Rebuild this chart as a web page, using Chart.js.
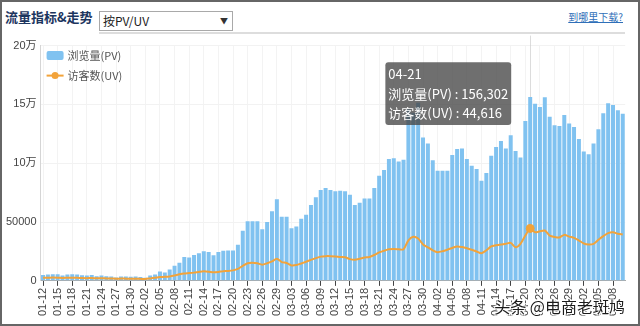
<!DOCTYPE html>
<html lang="zh-CN">
<head>
<meta charset="utf-8">
<title>流量指标&amp;走势</title>
<script src="https://cdn.jsdelivr.net/npm/chart.js@4.4.1/dist/chart.umd.min.js"></script>
<style>
  html, body { margin: 0; padding: 0; background: #fff; }
  .panel {
    position: relative; width: 640px; height: 326px; box-sizing: border-box;
    border: 2px solid #666; overflow: hidden;
    font-family: "Noto Sans CJK SC", "Liberation Sans", sans-serif;
  }
  .title { position: absolute; left: 3px; top: 7px; font-size: 13px; line-height: 16px; font-weight: bold; color: #1c355e; }
  .picker {
    position: absolute; left: 97px; top: 9px; width: 134px; height: 20px; box-sizing: border-box;
    border: 1px solid #a9a9a9; font-size: 12px; line-height: 18px; color: #222; padding-left: 3px;
  }
  .picker .arrow { position: absolute; right: 4px; top: 0; font-size: 8px; color: #333; }
  .rule { position: absolute; left: 97px; right: 13px; top: 30px; height: 2px; background: #ddd; }
  .help { position: absolute; right: 15px; top: 9px; font-size: 10px; line-height: 12px; color: #2f6fb8; text-decoration: underline; }
  .chart-box { position: absolute; left: 0; top: 33px; width: 636px; height: 289px; }
  .mark {
    position: absolute; right: 13px; top: 294px; font-size: 16px; line-height: 20px; color: #1a1a1a;
    text-shadow: 1px 1px 0 #fff, -1px -1px 0 #fff, 1px -1px 0 #fff, -1px 1px 0 #fff;
  }
</style>
</head>
<body>
<div class="panel">
  <div class="title">流量指标&amp;走势</div>
  <div class="picker">按PV/UV<span class="arrow">▼</span></div>
  <div class="rule"></div>
  <div class="help">到哪里下载?</div>
  <div class="chart-box"><canvas id="trend" width="636" height="289"></canvas></div>
  <div class="mark">头条 @电商老斑鸠</div>
</div>
<script>
const dates = [
  '01-12', '01-13', '01-14', '01-15', '01-16', '01-17', '01-18', '01-19', '01-20', '01-21',
  '01-22', '01-23', '01-24', '01-25', '01-26', '01-27', '01-28', '01-29', '01-30', '01-31',
  '02-01', '02-02', '02-03', '02-04', '02-05', '02-06', '02-07', '02-08', '02-09', '02-10',
  '02-11', '02-12', '02-13', '02-14', '02-15', '02-16', '02-17', '02-18', '02-19', '02-20',
  '02-21', '02-22', '02-23', '02-24', '02-25', '02-26', '02-27', '02-28', '02-29', '03-01',
  '03-02', '03-03', '03-04', '03-05', '03-06', '03-07', '03-08', '03-09', '03-10', '03-11',
  '03-12', '03-13', '03-14', '03-15', '03-16', '03-17', '03-18', '03-19', '03-20', '03-21',
  '03-22', '03-23', '03-24', '03-25', '03-26', '03-27', '03-28', '03-29', '03-30', '03-31',
  '04-01', '04-02', '04-03', '04-04', '04-05', '04-06', '04-07', '04-08', '04-09', '04-10',
  '04-11', '04-12', '04-13', '04-14', '04-15', '04-16', '04-17', '04-18', '04-19', '04-20',
  '04-21', '04-22', '04-23', '04-24', '04-25', '04-26', '04-27', '04-28', '04-29', '04-30',
  '05-01', '05-02', '05-03', '05-04', '05-05', '05-06', '05-07', '05-08', '05-09', '05-10',
];

// 浏览量 (PV) per day
const pvValues = [
  5000, 5500, 5600, 5600, 4600, 5500, 5600, 5500, 4700, 4600,
  5000, 3900, 4500, 3900, 3800, 2800, 3800, 3800, 3500, 3700,
  3200, 2700, 4500, 5400, 8000, 7200, 9600, 12800, 15500, 20200,
  19800, 22000, 23500, 25200, 24500, 21800, 24600, 25500, 25800, 25800,
  30600, 42700, 50600, 50600, 50600, 43900, 50100, 59100, 69300, 54400,
  54400, 44700, 46200, 52700, 56300, 64500, 71000, 77200, 78900, 77200,
  76100, 76600, 76100, 73300, 64500, 66500, 70100, 70100, 78900, 89400,
  94200, 103500, 104300, 101500, 102900, 145800, 143000, 151400, 121800, 116700,
  102600, 93600, 93600, 93600, 107100, 112000, 112500, 103500, 97800, 95000,
  85100, 91600, 106300, 113900, 118800, 112500, 123800, 110500, 104900, 135900,
  156302, 150600, 147800, 156000, 139600, 132300, 131700, 141000, 133700, 130900,
  120700, 109900, 107700, 116700, 128900, 142500, 150900, 149500, 145000, 142100,
];

// 访客数 (UV) per day
const uvValues = [
  2600, 2700, 2800, 2700, 2500, 2600, 2700, 2600, 2400, 2300,
  2400, 2200, 2300, 2100, 2000, 1800, 2000, 1900, 1800, 1900,
  1700, 1600, 2100, 2600, 3200, 3400, 3800, 4600, 5600, 6300,
  6600, 7000, 7600, 8100, 7800, 7300, 7600, 8200, 8400, 8900,
  10200, 12800, 15000, 15400, 14900, 13800, 15000, 16500, 18800, 16000,
  15200, 13100, 13400, 14800, 16300, 17800, 19300, 20600, 21000, 21000,
  20800, 20300, 20000, 18500, 18000, 18800, 19800, 20300, 22000, 24200,
  25600, 26800, 27000, 26900, 26800, 34500, 37500, 36000, 31000, 28500,
  26000, 24400, 25200, 26500, 28000, 29300, 28800, 27800, 26500, 25000,
  23500, 26000, 29300, 30200, 30900, 31500, 32300, 28600, 31500, 38500,
  44616, 41300, 42200, 42800, 38500, 37300, 36900, 39100, 37600, 36600,
  34300, 31800, 30900, 31500, 34900, 38000, 40600, 41300, 40000, 39400,
];

const highlightDay = '04-21';

const pvColor = '#80c2f0';
const uvColor = '#f2a33a';

Chart.defaults.font.family = '"Liberation Sans", "Noto Sans CJK SC", sans-serif';

// tooltip box sits to the left of the hovered bar, in the upper part of the plot
Chart.Tooltip.positioners.leftOfBar = function (items) {
  if (!items.length) return false;
  return { x: items[0].element.x, y: this.chart.chartArea.top + 48 };
};

// thin vertical guide through the hovered day
const hoverLine = {
  id: 'hoverLine',
  beforeDatasetsDraw(chart) {
    const active = chart.tooltip.getActiveElements();
    if (!active.length) return;
    const { ctx, chartArea } = chart;
    const x = Math.round(active[0].element.x) + 0.5;
    ctx.save();
    ctx.strokeStyle = 'rgba(205, 205, 205, 0.7)';
    ctx.lineWidth = 1;
    ctx.beginPath();
    ctx.moveTo(x, chartArea.top - 10);
    ctx.lineTo(x, chartArea.bottom);
    ctx.stroke();
    ctx.restore();
  },
};

// legend stacked in the top-left corner of the plot
const cornerLegend = {
  id: 'cornerLegend',
  afterDatasetsDraw(chart) {
    const { ctx, chartArea } = chart;
    const x = chartArea.left + 6;
    let y = chartArea.top + 10;
    ctx.save();
    ctx.font = '11px "Noto Sans CJK SC", sans-serif';
    ctx.textBaseline = 'middle';
    chart.data.datasets.forEach((ds) => {
      if (ds.type === 'line') {
        ctx.strokeStyle = ds.borderColor;
        ctx.lineWidth = 2;
        ctx.beginPath();
        ctx.moveTo(x, y);
        ctx.lineTo(x + 17, y);
        ctx.stroke();
        ctx.fillStyle = ds.borderColor;
        ctx.beginPath();
        ctx.arc(x + 8.5, y, 3.5, 0, Math.PI * 2);
        ctx.fill();
      } else {
        ctx.fillStyle = ds.backgroundColor;
        ctx.beginPath();
        ctx.roundRect(x, y - 4.5, 17, 9, 2);
        ctx.fill();
      }
      ctx.fillStyle = '#555';
      ctx.fillText(ds.label, x + 21, y);
      y += 20;
    });
    ctx.restore();
  },
};

const chart = new Chart(document.getElementById('trend'), {
  type: 'bar',
  data: {
    labels: dates,
    datasets: [
      {
        type: 'bar',
        label: '浏览量(PV)',
        data: pvValues,
        backgroundColor: pvColor,
        hoverBackgroundColor: pvColor,
        barPercentage: 0.82,
        categoryPercentage: 1,
        order: 1,
      },
      {
        type: 'line',
        label: '访客数(UV)',
        data: uvValues,
        borderColor: uvColor,
        backgroundColor: uvColor,
        borderWidth: 2,
        tension: 0.25,
        pointRadius: 0,
        pointHoverRadius: 4,
        pointHoverBorderWidth: 1,
        pointHoverBackgroundColor: uvColor,
        pointHoverBorderColor: uvColor,
        order: 0,
      },
    ],
  },
  options: {
    responsive: false,
    animation: false,
    events: [],
    layout: { padding: { top: 3, right: 10, bottom: 6, left: 0 } },
    scales: {
      x: {
        ticks: {
          autoSkip: false,
          minRotation: 90,
          maxRotation: 90,
          padding: 2,
          color: '#444',
          font: { size: 11 },
          callback: (value, index) => (index % 3 === 0 ? dates[index] : ''),
        },
        grid: {
          offset: false,
          tickLength: 5,
          color: (ctx) => (ctx.index % 3 === 0 ? '#f3f3f3' : 'rgba(0,0,0,0)'),
          tickColor: (ctx) => (ctx.index % 3 === 0 ? '#444' : 'rgba(0,0,0,0)'),
        },
        border: { color: '#aaa' },
      },
      y: {
        min: 0,
        max: 200000,
        ticks: {
          stepSize: 50000,
          padding: 4,
          color: '#444',
          font: { size: 11 },
          callback: (v) => (v >= 100000 ? v / 10000 + '万' : String(v)),
        },
        grid: { color: '#f2f2f2', drawTicks: false },
        border: { color: '#d5d5d5' },
      },
    },
    plugins: {
      legend: { display: false },
      tooltip: {
        position: 'leftOfBar',
        xAlign: 'right',
        yAlign: 'center',
        caretSize: 0,
        caretPadding: 19,
        cornerRadius: 3,
        displayColors: false,
        backgroundColor: 'rgba(70, 70, 70, 0.78)',
        titleColor: '#fff',
        bodyColor: '#fff',
        titleFont: { family: '"Noto Sans CJK SC", sans-serif', size: 13, weight: 'normal', lineHeight: 1.15 },
        bodyFont: { family: '"Noto Sans CJK SC", sans-serif', size: 13, lineHeight: 1.15 },
        padding: { x: 3, y: 4 },
        titleMarginBottom: 5,
        bodySpacing: 5,
        itemSort: (a, b) => a.datasetIndex - b.datasetIndex,
        callbacks: {
          title: (items) => items[0].label,
          label: (ctx) => ctx.dataset.label + ' : ' + ctx.parsed.y.toLocaleString('en-US'),
        },
      },
    },
  },
  plugins: [hoverLine, cornerLegend],
});

// show the readout for the highlighted day
const dayIndex = dates.indexOf(highlightDay);
const active = [
  { datasetIndex: 0, index: dayIndex },
  { datasetIndex: 1, index: dayIndex },
];
chart.setActiveElements(active);
chart.tooltip.setActiveElements(active, { x: 0, y: 0 });
chart.update();
</script>
</body>
</html>
